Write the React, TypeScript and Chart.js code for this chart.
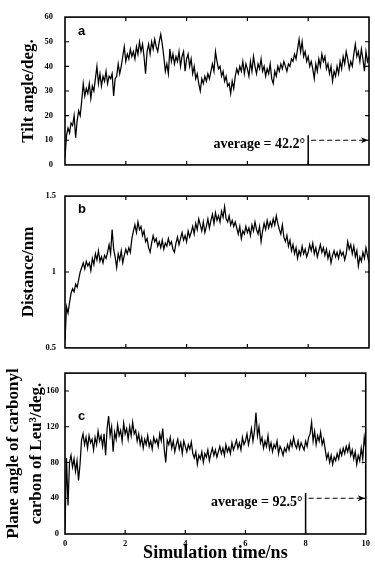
import React, { useEffect, useRef } from "react";
import { Chart, registerables } from "chart.js";

Chart.register(...registerables);

// ---- data ----
const TIME_STEP_NS = 0.05;
const X_TICKS = [0, 2, 4, 6, 8, 10];

const TILT = [
  3, 12, 15, 13, 17, 16, 20, 11, 18, 22,
  20, 26, 33, 28, 31, 29, 33, 27, 32, 30,
  35, 40, 33, 37, 32, 36, 34, 38, 33, 36,
  35, 37, 28, 35, 36, 41, 37, 40, 44, 48,
  42, 45, 43, 47, 44, 46, 43, 48, 45, 50,
  46, 49, 44, 37, 46, 49, 45, 50, 47, 51,
  48, 46, 50, 53, 49, 44, 38, 41, 37, 47,
  42, 45, 41, 44, 42, 46, 40, 44, 46, 38,
  43, 45, 40, 43, 37, 40, 35, 37, 33, 30,
  35, 33, 36, 34, 37, 35, 38, 41, 38, 46,
  42, 39, 40, 36, 38, 34, 36, 32, 33, 29,
  34, 31, 36, 39, 37, 40, 38, 42, 37, 41,
  39, 36, 42, 38, 44, 40, 37, 41, 39, 43,
  38, 40, 36, 39, 37, 41, 35, 33, 38, 36,
  40, 38, 41, 39, 42, 40, 38, 41, 40, 43,
  42, 45, 43, 47, 51, 46, 50, 44, 46, 42,
  44, 40, 42, 39, 35, 41, 38, 43, 40, 45,
  42, 44, 39, 41, 37, 40, 34, 38, 36, 40,
  37, 42, 39, 44, 41, 46, 43, 39, 42, 40,
  45, 49, 44, 46, 42, 47, 43, 38, 46, 42,
  44,
];

const DIST = [
  0.55, 0.77, 0.73, 0.80, 0.86, 0.89, 0.87, 0.92, 0.90, 0.95,
  1.00, 1.03, 1.06, 1.02, 1.07, 1.04, 1.06, 1.01, 1.09, 1.05,
  1.12, 1.08, 1.14, 1.07, 1.10, 1.06, 1.11, 1.09, 1.13, 1.18,
  1.12, 1.28, 1.15, 1.10, 1.03, 1.12, 1.08, 1.14, 1.06, 1.11,
  1.15, 1.12, 1.16, 1.13, 1.22, 1.27, 1.31, 1.26, 1.33, 1.28,
  1.30, 1.24, 1.27, 1.20, 1.22, 1.16, 1.13, 1.19, 1.24, 1.20,
  1.22, 1.17, 1.20, 1.16, 1.21, 1.15, 1.19, 1.17, 1.22, 1.18,
  1.20, 1.15, 1.13, 1.19, 1.23, 1.18, 1.22, 1.26, 1.21, 1.24,
  1.20, 1.27, 1.23, 1.26, 1.30, 1.25, 1.32, 1.28, 1.35, 1.31,
  1.27, 1.33, 1.26, 1.30, 1.35, 1.29, 1.34, 1.38, 1.32, 1.39,
  1.34, 1.37, 1.33, 1.40, 1.36, 1.43, 1.35, 1.33, 1.37, 1.31,
  1.34, 1.30, 1.33, 1.29, 1.25, 1.30, 1.22, 1.27, 1.25, 1.30,
  1.26, 1.29, 1.24, 1.31, 1.27, 1.33, 1.28, 1.25, 1.30, 1.20,
  1.27, 1.32, 1.28, 1.34, 1.29, 1.33, 1.30, 1.35, 1.31, 1.37,
  1.32, 1.28, 1.25, 1.31, 1.23, 1.20, 1.24, 1.17, 1.21, 1.14,
  1.18, 1.12, 1.16, 1.09, 1.14, 1.11, 1.17, 1.12, 1.15, 1.10,
  1.13, 1.18, 1.14, 1.19, 1.12, 1.16, 1.10, 1.14, 1.18, 1.13,
  1.16, 1.11, 1.15, 1.09, 1.13, 1.06, 1.11, 1.14, 1.10, 1.13,
  1.09, 1.14, 1.11, 1.13, 1.08, 1.12, 1.20, 1.15, 1.18, 1.12,
  1.17, 1.10, 1.14, 1.04, 1.10, 1.07, 1.13, 1.09, 1.16, 1.11,
  1.06,
];

const PLANE = [
  5, 85, 32, 80, 88, 75, 84, 70, 82, 60,
  78, 105, 112, 100, 108, 96, 110, 102, 106, 94,
  108, 100, 115, 104, 110, 98, 112, 88, 118, 132,
  110, 120, 92, 114, 106, 122, 110, 116, 104, 124,
  112, 118, 106, 120, 110, 125, 112, 116, 104, 112,
  100, 108, 96, 106, 100, 110, 98, 104, 95, 108,
  102, 106, 98, 112, 104, 118, 95, 80, 105, 100,
  108, 96, 104, 92, 100, 106, 95, 102, 90, 104,
  98, 92, 100, 95, 103, 90, 85, 92, 78, 88,
  84, 92, 80, 90, 86, 94, 82, 90, 96, 88,
  94, 86, 92, 98, 90, 96, 88, 100, 92, 97,
  90, 102, 94, 99, 105, 96, 102, 94, 108, 100,
  104, 112, 100, 108, 118, 104, 115, 136, 110, 120,
  102, 108, 96, 104, 98, 110, 95, 102, 92, 100,
  96, 104, 90, 98, 94, 88, 96, 92, 100, 94,
  104, 98, 108, 100, 96, 104, 95, 102, 98, 94,
  104, 98, 108, 112, 125, 104, 115, 100, 110, 104,
  114, 100, 106, 95, 84, 90, 80, 88, 78, 86,
  82, 90, 84, 94, 88, 96, 90, 98, 92, 100,
  88, 94, 84, 92, 78, 88, 82, 96, 84, 108,
  96,
];

const TILT_TICKS = [0, 10, 20, 30, 40, 50, 60];
const DIST_TICKS = [0.5, 1, 1.5];
const PLANE_TICKS = [0, 40, 80, 120, 160];

const SERIF = "'Liberation Serif', 'Times New Roman', serif";
const SANS = "'Liberation Sans', Arial, sans-serif";

type Avg = { text: string; lineTop: number; arrowAt: number; xStart: number; xEnd: number };

const framePlugin = {
  id: "frame",
  afterDatasetsDraw(chart: any, _args: any, opts: any) {
    const { ctx, chartArea } = chart;
    const { left, right, top, bottom } = chartArea;
    const x = chart.scales.x;
    const y = chart.scales.y;
    ctx.save();
    ctx.strokeStyle = "#000";
    ctx.lineWidth = 1.6;
    ctx.strokeRect(left, top, right - left, bottom - top);
    ctx.lineWidth = 1.2;
    const L = 4;
    ctx.beginPath();
    for (const v of X_TICKS) {
      const px = x.getPixelForValue(v);
      if (px <= left + 1 || px >= right - 1) continue;
      ctx.moveTo(px, bottom);
      ctx.lineTo(px, bottom - L);
      ctx.moveTo(px, top);
      ctx.lineTo(px, top + L);
    }
    for (const t of y.ticks) {
      const py = y.getPixelForValue(t.value);
      if (py <= top + 1 || py >= bottom - 1) continue;
      ctx.moveTo(left, py);
      ctx.lineTo(left + L, py);
      ctx.moveTo(right, py);
      ctx.lineTo(right - L, py);
    }
    ctx.stroke();

    ctx.fillStyle = "#000";
    ctx.font = `bold 13px ${SANS}`;
    ctx.textAlign = "left";
    ctx.textBaseline = "middle";
    ctx.fillText(opts.letter, left + 13, top + opts.letterDy);

    const avg: Avg | undefined = opts.avg;
    if (avg) {
      const xa = x.getPixelForValue(avg.xStart);
      const xe = x.getPixelForValue(avg.xEnd);
      const yTop = y.getPixelForValue(avg.lineTop);
      const ya = y.getPixelForValue(avg.arrowAt);
      ctx.lineWidth = 1.5;
      ctx.beginPath();
      ctx.moveTo(xa, bottom);
      ctx.lineTo(xa, yTop);
      ctx.stroke();
      ctx.lineWidth = 1.2;
      ctx.setLineDash([5, 3]);
      ctx.beginPath();
      ctx.moveTo(xa + 3, ya);
      ctx.lineTo(xe - 6, ya);
      ctx.stroke();
      ctx.setLineDash([]);
      ctx.beginPath();
      ctx.moveTo(xe - 1, ya);
      ctx.lineTo(xe - 8, ya - 3);
      ctx.lineTo(xe - 6, ya);
      ctx.lineTo(xe - 8, ya + 3);
      ctx.closePath();
      ctx.fill();
      ctx.font = `bold 14px ${SERIF}`;
      ctx.textAlign = "right";
      ctx.textBaseline = "middle";
      ctx.fillText(avg.text, xa - 3, ya + 4);
    }
    ctx.restore();
  },
};

type PanelProps = {
  top: number;
  height: number;
  values: number[];
  yMin: number;
  yMax: number;
  yTicks: number[];
  yTitle: string | string[];
  titlePadTop: number;
  tickPad: number;
  padTop: number;
  padBottom: number;
  showX: boolean;
  letter: string;
  letterDy: number;
  avg?: Avg;
};

function Panel(p: PanelProps) {
  const ref = useRef<HTMLCanvasElement | null>(null);
  useEffect(() => {
    if (!ref.current) return;
    const data = p.values.map((v, i) => ({ x: i * TIME_STEP_NS, y: v }));
    const tickFont = { family: SERIF, size: 8.5, weight: "bold" as const };
    const chart = new Chart(ref.current, {
      type: "line",
      data: {
        datasets: [
          {
            data,
            borderColor: "#000",
            borderWidth: 1.25,
            pointRadius: 0,
            fill: false,
            tension: 0,
          },
        ],
      },
      options: {
        responsive: false,
        maintainAspectRatio: false,
        animation: false,
        events: [],
        layout: { padding: { left: 0, right: 6, top: p.padTop, bottom: p.padBottom } },
        plugins: {
          legend: { display: false },
          tooltip: { enabled: false },
          frame: { letter: p.letter, letterDy: p.letterDy, avg: p.avg },
        } as any,
        scales: {
          x: {
            type: "linear",
            min: 0,
            max: 10,
            display: p.showX,
            afterBuildTicks: (s: any) => {
              s.ticks = X_TICKS.map((v) => ({ value: v }));
            },
            afterFit: (s: any) => {
              if (p.showX) s.height = 34;
            },
            grid: { display: false, drawTicks: false },
            border: { display: false },
            ticks: { font: tickFont, color: "#000", padding: 5, maxRotation: 0, callback: (v: any) => String(v) },
            title: {
              display: p.showX,
              text: "Simulation time/ns",
              color: "#000",
              font: { family: SERIF, size: 18, weight: "bold", lineHeight: 1.2 },
              padding: { top: 0, bottom: 4 },
            },
          },
          y: {
            type: "linear",
            min: p.yMin,
            max: p.yMax,
            afterBuildTicks: (s: any) => {
              s.ticks = p.yTicks.map((v) => ({ value: v }));
            },
            afterFit: (s: any) => {
              s.width = 65;
            },
            grid: { display: false, drawTicks: false },
            border: { display: false },
            ticks: { font: tickFont, color: "#000", padding: p.tickPad, callback: (v: any) => String(v) },
            title: {
              display: true,
              text: p.yTitle,
              color: "#000",
              font: { family: SERIF, size: 17, weight: "bold", lineHeight: 1.35 },
              padding: { top: p.titlePadTop, bottom: 0 },
            },
          },
        },
      },
      plugins: [framePlugin],
    });
    return () => chart.destroy();
  }, []);
  return (
    <div style={{ position: "absolute", left: 0, top: p.top, width: 375, height: p.height }}>
      <canvas ref={ref} width={375} height={p.height} style={{ width: 375, height: p.height, display: "block" }} />
    </div>
  );
}

export default function App() {
  return (
    <div style={{ position: "fixed", left: 0, top: 0, width: 375, height: 568, background: "#fff" }}>
      <Panel
        top={0}
        height={182}
        values={TILT}
        yMin={0}
        yMax={60}
        yTicks={TILT_TICKS}
        yTitle="Tilt angle/deg."
        titlePadTop={17.5}
        tickPad={12}
        padTop={5}
        padBottom={7}
        showX={false}
        letter="a"
        letterDy={14}
        avg={{ text: "average = 42.2°", lineTop: 12, arrowAt: 10, xStart: 8, xEnd: 10 }}
      />
      <Panel
        top={182}
        height={180}
        values={DIST}
        yMin={0.5}
        yMax={1.5}
        yTicks={DIST_TICKS}
        yTitle="Distance/nm"
        titlePadTop={17.5}
        tickPad={9}
        padTop={7}
        padBottom={4}
        showX={false}
        letter="b"
        letterDy={13}
      />
      <Panel
        top={362}
        height={206}
        values={PLANE}
        yMin={0}
        yMax={180}
        yTicks={PLANE_TICKS}
        yTitle={["Plane angle of carbonyl", "carbon of Leu³/deg."]}
        titlePadTop={2.5}
        tickPad={6}
        padTop={6}
        padBottom={0}
        showX={true}
        letter="c"
        letterDy={43}
        avg={{ text: "average = 92.5°", lineTop: 46, arrowAt: 40, xStart: 8, xEnd: 10 }}
      />
    </div>
  );
}
